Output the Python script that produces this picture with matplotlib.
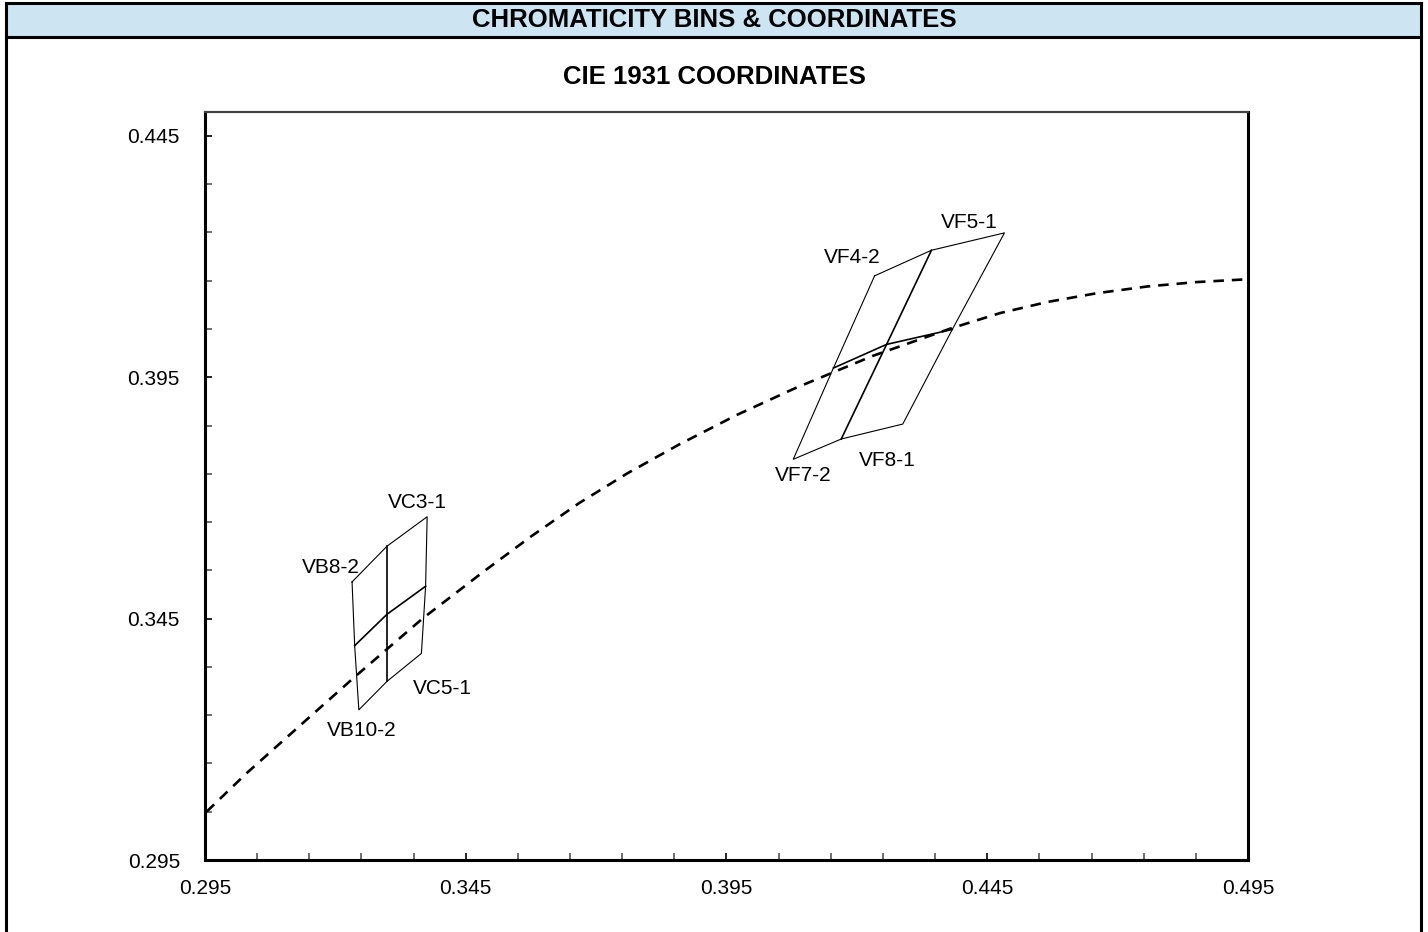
import numpy as np
import matplotlib
matplotlib.use("Agg")
import matplotlib.pyplot as plt
from matplotlib.lines import Line2D
from matplotlib.patches import Rectangle

plt.rcParams['font.family'] = ['Liberation Sans', 'DejaVu Sans']

# black body locus (dashed)
locus_x = [0.2953, 0.3030, 0.3140, 0.3240, 0.3367, 0.3485, 0.3575, 0.3667,
           0.3760, 0.3858, 0.3970, 0.4081, 0.4230, 0.4380, 0.4475, 0.4566,
           0.4660, 0.4757, 0.4850, 0.4950]
locus_y = [0.3050, 0.3130, 0.3236, 0.3332, 0.3450, 0.3548, 0.3620, 0.3689,
           0.3751, 0.3810, 0.3872, 0.3927, 0.3994, 0.4051, 0.4083, 0.4106,
           0.4124, 0.4138, 0.4147, 0.4153]

# bin corners: TL, TM, TR, RM, BR, BM, BL, LM, C
vb_x = [0.3232, 0.3299, 0.3376, 0.3373, 0.3365, 0.3299, 0.3245, 0.3237, 0.3299]
vb_y = [0.3526, 0.3600, 0.3661, 0.3517, 0.3378, 0.3320, 0.3261, 0.3394, 0.3459]
vf_x = [0.4234, 0.4343, 0.4483, 0.4383, 0.4288, 0.4170, 0.4078, 0.4155, 0.4257]
vf_y = [0.4160, 0.4213, 0.4249, 0.4049, 0.3853, 0.3822, 0.3780, 0.3969, 0.4018]

vb_labels = {"VB8-2": 0, "VC3-1": 2, "VC5-1": 4, "VB10-2": 6}
vf_labels = {"VF4-2": 0, "VF5-1": 2, "VF8-1": 5, "VF7-2": 6}

fig = plt.figure(figsize=(14.28, 9.32), dpi=100)

# outer frame + header band
W, H = 1428, 932
def fx(px):
    return px / W
def fy(py):
    return 1 - py / H

fig.patches.append(Rectangle((fx(6), fy(37)), fx(1421) - fx(6), fy(3) - fy(37),
                             transform=fig.transFigure, facecolor='#cde4f3',
                             edgecolor='none', zorder=0))
for xs, ys in [([6, 6], [3, 935]), ([1421, 1421], [3, 935]), ([6, 1421], [3, 3]),
               ([6, 1421], [37, 37])]:
    fig.lines.append(Line2D([fx(v) for v in xs], [fy(v) for v in ys],
                            transform=fig.transFigure, color='black', lw=2.2))
fig.text(0.5, fy(20), "CHROMATICITY BINS & COORDINATES", ha='center', va='center',
         fontsize=18.5, fontweight='bold')
fig.text(0.5, fy(77), "CIE 1931 COORDINATES", ha='center', va='center',
         fontsize=18.5, fontweight='bold')

ax = fig.add_axes([205 / W, 1 - 860 / H, (1248 - 205) / W, (860 - 111.7) / H])
ax.set_xlim(0.295, 0.495)
ax.set_ylim(0.295, 0.45)

ax.plot(locus_x, locus_y, color='black', lw=1.9, dashes=(4, 3), zorder=2)

# label offsets (pixels) from the corner they belong to
label_offsets = {"VB8-2": (-21, 14), "VC3-1": (-10, 14), "VC5-1": (21, -35),
                 "VB10-2": (3, -21), "VF4-2": (-22, 18), "VF5-1": (-35, 10),
                 "VF8-1": (46, -21), "VF7-2": (10, -16)}


def draw_bin(xs, ys, names):
    ring = [0, 1, 2, 3, 4, 5, 6, 7, 0]
    ax.plot([xs[i] for i in ring], [ys[i] for i in ring], color='black', lw=0.8, zorder=3)
    ax.plot([xs[i] for i in (1, 8, 5)], [ys[i] for i in (1, 8, 5)], color='black', lw=1.2, zorder=3)
    ax.plot([xs[i] for i in (7, 8, 3)], [ys[i] for i in (7, 8, 3)], color='black', lw=1.2, zorder=3)
    for name, i in names.items():
        ax.annotate(name, (xs[i], ys[i]), xytext=label_offsets[name],
                    textcoords='offset pixels', ha='center', va='center', fontsize=15)


draw_bin(vb_x, vb_y, vb_labels)
draw_bin(vf_x, vf_y, vf_labels)

ax.set_xticks(np.arange(0.295, 0.496, 0.05))
ax.set_xticks(np.arange(0.295, 0.496, 0.01), minor=True)
ax.set_yticks(np.arange(0.295, 0.446, 0.05))
ax.set_yticks(np.arange(0.295, 0.45, 0.01), minor=True)
ax.xaxis.set_major_formatter(plt.FormatStrFormatter('%.3f'))
ax.yaxis.set_major_formatter(plt.FormatStrFormatter('%.3f'))
ax.tick_params(which='both', direction='in', labelsize=15, color='black')
ax.tick_params(which='major', length=5, width=1.2)
ax.tick_params(which='minor', length=5, width=1.2, color='#555555')
ax.tick_params(axis='x', pad=14)
ax.tick_params(axis='y', pad=18)

for side in ['left', 'bottom', 'right']:
    ax.spines[side].set_linewidth(2.2)
ax.spines['top'].set_linewidth(1.6)
ax.spines['top'].set_color('#444444')

fig.savefig('out.png', dpi=100)
